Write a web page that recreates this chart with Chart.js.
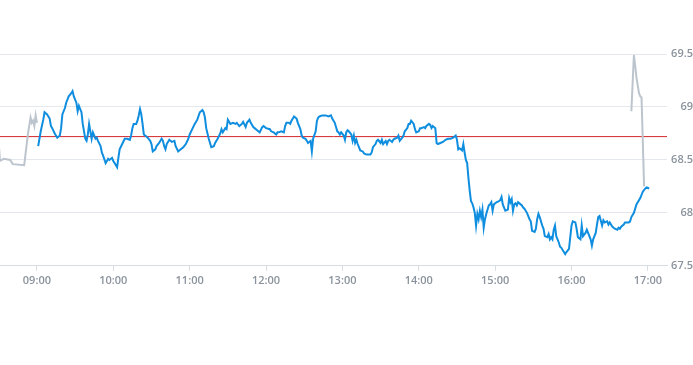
<!DOCTYPE html>
<html>
<head>
<meta charset="utf-8">
<script src="https://cdn.jsdelivr.net/npm/chart.js@4/dist/chart.umd.min.js"></script>
<style>
  html, body { margin: 0; padding: 0; background: #fff; }
</style>
</head>
<body>
<canvas id="chart" width="693" height="365"></canvas>
<script>
// minutes are counted from the 09:00 open
const OPEN = 540;
const prevClose = 68.72;
const xMin = 511, xMax = 1035;
const tickLabels = ['09:00', '10:00', '11:00', '12:00', '13:00', '14:00', '15:00', '16:00', '17:00'];
const yTicks = [67.5, 68, 68.5, 69, 69.5];

const preMinutes = [-30, -29, -26, -21, -19, -10, -9, -7, -5, -4, -3, -2, -1, 0];
const prePrices  = [68.66, 68.49, 68.51, 68.50, 68.46, 68.45, 68.55, 68.75, 68.90, 68.85, 68.87, 68.82, 68.92, 68.85];

const sessionMinutes = [
  1, 2, 3, 5, 6, 8, 10, 11, 12, 14, 16, 18, 19, 20, 22, 23, 25, 27, 28, 29,
  31, 32, 33, 34, 35, 36, 38, 39, 40, 41, 42, 43, 44, 46, 47, 48, 50, 51, 52, 54,
  55, 56, 57, 59, 60, 61, 63, 64, 65, 67, 69, 71, 73, 74, 75, 76, 78, 79, 80, 81,
  82, 83, 84, 86, 87, 89, 90, 91, 93, 94, 96, 98, 99, 100, 101, 102, 104, 106, 108, 109,
  111, 113, 115, 117, 119, 120, 122, 124, 126, 128, 130, 131, 132, 133, 135, 136, 137, 139, 140, 141,
  142, 144, 145, 146, 147, 148, 149, 150, 152, 154, 156, 157, 159, 161, 162, 164, 165, 167, 168, 170,
  171, 173, 175, 177, 178, 180, 183, 184, 186, 188, 189, 190, 192, 194, 195, 196, 198, 199, 200, 202,
  204, 205, 207, 208, 209, 211, 212, 213, 215, 216, 217, 219, 220, 221, 222, 224, 226, 227, 229, 231,
  232, 234, 236, 237, 238, 239, 241, 242, 243, 244, 245, 247, 248, 249, 250, 251, 252, 253, 254, 256,
  257, 259, 260, 262, 263, 264, 266, 267, 268, 270, 271, 272, 274, 275, 276, 277, 279, 280, 281, 283,
  284, 285, 287, 288, 289, 291, 292, 293, 294, 296, 297, 298, 300, 301, 302, 304, 305, 306, 308, 309,
  310, 311, 313, 314, 315, 317, 319, 321, 323, 325, 327, 329, 330, 331, 332, 334, 335, 336, 337, 338,
  339, 340, 341, 342, 343, 344, 345, 346, 347, 348, 349, 350, 351, 352, 353, 355, 356, 357, 358, 359,
  361, 363, 364, 365, 366, 367, 368, 370, 371, 372, 373, 374, 375, 376, 377, 378, 380, 381, 382, 383,
  385, 387, 388, 389, 391, 392, 393, 394, 395, 397, 398, 399, 401, 402, 403, 404, 405, 406, 407, 408,
  410, 411, 412, 414, 415, 416, 418, 419, 420, 421, 423, 424, 425, 427, 428, 429, 431, 432, 433, 435,
  436, 437, 439, 440, 441, 442, 444, 445, 446, 448, 449, 450, 452, 453, 454, 456, 457, 458, 459, 461,
  462, 465, 466, 467, 469, 471, 474, 476, 478, 479, 481
];
const sessionPrices = [
  68.63, 68.70, 68.77, 68.88, 68.95, 68.93, 68.89, 68.82, 68.80, 68.75, 68.71, 68.73, 68.80, 68.93, 68.99, 69.04, 69.10, 69.13, 69.15, 69.10,
  69.04, 68.96, 69.01, 68.98, 68.95, 68.84, 68.70, 68.68, 68.74, 68.84, 68.77, 68.70, 68.76, 68.70, 68.71, 68.68, 68.63, 68.57, 68.54, 68.47,
  68.49, 68.51, 68.50, 68.52, 68.49, 68.47, 68.43, 68.52, 68.60, 68.65, 68.70, 68.70, 68.69, 68.73, 68.80, 68.84, 68.84, 68.87, 68.92, 68.98,
  68.93, 68.84, 68.74, 68.72, 68.71, 68.68, 68.65, 68.58, 68.60, 68.63, 68.66, 68.70, 68.68, 68.63, 68.60, 68.65, 68.69, 68.67, 68.68, 68.63,
  68.58, 68.60, 68.62, 68.65, 68.70, 68.74, 68.79, 68.84, 68.88, 68.95, 68.97, 68.95, 68.90, 68.80, 68.70, 68.66, 68.62, 68.63, 68.66, 68.68,
  68.70, 68.75, 68.79, 68.76, 68.78, 68.80, 68.79, 68.88, 68.84, 68.85, 68.84, 68.85, 68.82, 68.84, 68.86, 68.81, 68.85, 68.88, 68.85, 68.81,
  68.80, 68.78, 68.76, 68.81, 68.82, 68.80, 68.79, 68.77, 68.76, 68.74, 68.76, 68.76, 68.77, 68.76, 68.82, 68.85, 68.85, 68.84, 68.87, 68.91,
  68.89, 68.85, 68.79, 68.73, 68.71, 68.70, 68.68, 68.66, 68.68, 68.58, 68.70, 68.77, 68.87, 68.90, 68.91, 68.92, 68.92, 68.92, 68.91, 68.92,
  68.89, 68.85, 68.77, 68.76, 68.74, 68.76, 68.73, 68.69, 68.76, 68.78, 68.77, 68.74, 68.68, 68.73, 68.66, 68.69, 68.65, 68.62, 68.59, 68.58,
  68.56, 68.55, 68.55, 68.55, 68.57, 68.62, 68.65, 68.68, 68.69, 68.66, 68.69, 68.65, 68.68, 68.65, 68.68, 68.69, 68.67, 68.69, 68.70, 68.71,
  68.73, 68.68, 68.71, 68.73, 68.77, 68.80, 68.84, 68.84, 68.87, 68.84, 68.79, 68.76, 68.77, 68.80, 68.80, 68.81, 68.80, 68.82, 68.84, 68.83,
  68.80, 68.82, 68.80, 68.66, 68.65, 68.66, 68.67, 68.69, 68.70, 68.70, 68.71, 68.73, 68.69, 68.60, 68.61, 68.59, 68.65, 68.57, 68.50, 68.47,
  68.33, 68.21, 68.11, 68.09, 68.05, 68.00, 67.88, 67.99, 67.94, 68.02, 67.96, 68.03, 67.86, 67.94, 67.99, 68.07, 68.08, 68.10, 68.02, 68.08,
  68.10, 68.11, 68.12, 68.15, 68.08, 68.05, 68.02, 68.03, 68.14, 68.10, 68.13, 68.02, 68.08, 68.09, 68.07, 68.10, 68.08, 68.07, 68.05, 68.04,
  68.00, 67.94, 67.92, 67.83, 67.82, 67.85, 67.94, 67.99, 67.96, 67.88, 67.85, 67.78, 67.77, 67.80, 67.75, 67.77, 67.75, 67.84, 67.88, 67.78,
  67.72, 67.68, 67.67, 67.63, 67.61, 67.63, 67.66, 67.77, 67.88, 67.92, 67.91, 67.85, 67.77, 67.75, 67.88, 67.78, 67.81, 67.84, 67.81, 67.75,
  67.69, 67.75, 67.81, 67.89, 67.96, 67.97, 67.88, 67.93, 67.91, 67.92, 67.89, 67.91, 67.87, 67.86, 67.85, 67.84, 67.86, 67.85, 67.87, 67.89,
  67.91, 67.91, 67.92, 67.96, 68.00, 68.08, 68.14, 68.20, 68.23, 68.24, 68.23
];

const postMinutes = [467, 469, 470, 471, 473, 474, 475, 477];
const postPrices  = [68.96, 69.49, 69.39, 69.28, 69.13, 69.10, 69.09, 68.25];

function toPoints(mins, prices) {
  return mins.map((m, i) => ({ x: OPEN + m, y: prices[i] }));
}
function labelToMinutes(label) {
  const [h, m] = label.split(':').map(Number);
  return h * 60 + m;
}
function minutesToLabel(v) {
  const h = Math.floor(v / 60), m = Math.round(v % 60);
  return String(h).padStart(2, '0') + ':' + String(m).padStart(2, '0');
}

const tickColor = '#8a939d';
const tickFont = { family: "'Open Sans', sans-serif", size: 11, weight: '600' };

new Chart(document.getElementById('chart'), {
  type: 'line',
  data: {
    datasets: [
      {
        data: toPoints(sessionMinutes, sessionPrices),
        borderColor: '#0f8ee0',
        borderWidth: 2,
        pointRadius: 0,
        tension: 0
      },
      {
        data: toPoints(preMinutes, prePrices),
        borderColor: '#bcc5cd',
        borderWidth: 2,
        pointRadius: 0,
        tension: 0
      },
      {
        data: toPoints(postMinutes, postPrices),
        borderColor: '#bcc5cd',
        borderWidth: 2,
        pointRadius: 0,
        tension: 0
      },
      {
        data: [{ x: xMin, y: prevClose }, { x: xMax, y: prevClose }],
        borderColor: '#d3272b',
        borderWidth: 1,
        pointRadius: 0
      }
    ]
  },
  options: {
    responsive: false,
    animation: false,
    devicePixelRatio: 1,
    layout: { padding: { top: 54, bottom: 75, left: 0, right: 0 } },
    scales: {
      x: {
        type: 'linear',
        min: xMin,
        max: xMax,
        afterBuildTicks: axis => {
          axis.ticks = tickLabels.map(l => ({ value: labelToMinutes(l) }));
        },
        ticks: {
          callback: v => minutesToLabel(v),
          autoSkip: false,
          maxRotation: 0,
          color: tickColor,
          font: tickFont,
          padding: 3
        },
        grid: { drawOnChartArea: false, drawTicks: true, tickLength: 5, color: '#d6dce2' },
        border: { color: '#d6dce2' }
      },
      y: {
        position: 'right',
        min: 67.5,
        max: 69.5,
        afterBuildTicks: axis => {
          axis.ticks = yTicks.map(v => ({ value: v }));
        },
        afterFit: axis => { axis.width = 26; },
        ticks: {
          callback: v => String(v),
          crossAlign: 'far',
          padding: 4,
          color: tickColor,
          font: tickFont
        },
        grid: { color: '#e4e8ec', drawTicks: false },
        border: { display: false }
      }
    },
    plugins: {
      legend: { display: false },
      tooltip: { enabled: false }
    }
  }
});
</script>
</body>
</html>
